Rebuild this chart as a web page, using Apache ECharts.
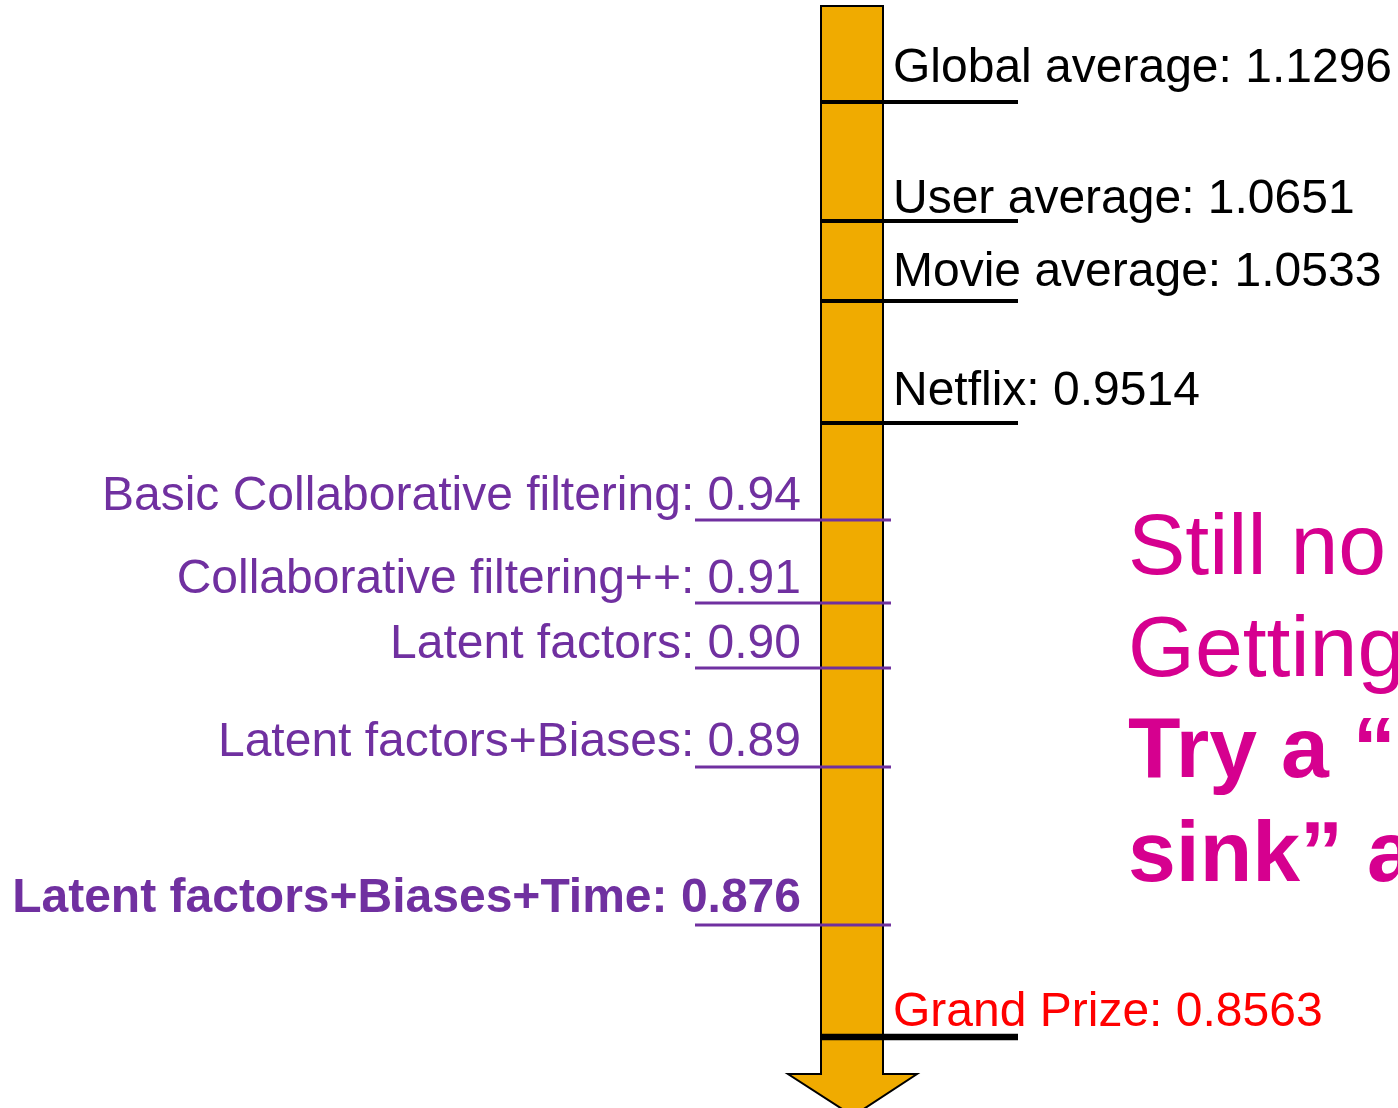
<!DOCTYPE html>
<html><head><meta charset="utf-8">
<script src="https://cdn.jsdelivr.net/npm/echarts@6/dist/echarts.min.js"></script>
<style>html,body{margin:0;padding:0;background:#fff;overflow:hidden}#c{width:1398px;height:1108px;}</style>
</head><body><div id="c"></div>
<script>
// ---- data ----
const methods = ['Global average', 'User average', 'Movie average', 'Netflix',
  'Basic Collaborative filtering', 'Collaborative filtering++', 'Latent factors',
  'Latent factors+Biases', 'Latent factors+Biases+Time', 'Grand Prize'];
const rmse = [1.1296, 1.0651, 1.0533, 0.9514, 0.94, 0.91, 0.90, 0.89, 0.876, 0.8563];
const shownDecimals = [4, 4, 4, 4, 2, 2, 2, 2, 3, 4];
const calloutLines = ['Still no prize!', 'Getting desperate.', 'Try a \u201ckitchen', 'sink\u201d approach!'];

// ---- layout (schematic diagram units, not data) ----
const levelPos = [102, 221, 301, 423, 520, 603, 668, 767, 925, 1037];
const labelBase = [85, 216, 289, 408, 513, 596, 661, 759, 915, 1029];
const side = ['R', 'R', 'R', 'R', 'L', 'L', 'L', 'L', 'L', 'R'];
const fontSz = 48;
const FONT = '"Liberation Sans", Arial, Helvetica, sans-serif';
const PURPLE = '#7030A0', MAGENTA = '#D6008F', GOLD = '#F0AB00';

const chart = echarts.init(document.getElementById('c'), null, {renderer: 'canvas'});

function levelItem(params, api) {
  const i = params.dataIndex;
  const y = api.value(1);
  const isR = side[i] === 'R';
  const grand = i === methods.length - 1;
  const x1 = isR ? 821 : 695, x2 = isR ? 1018 : 891;
  const p1 = api.coord([x1, y]), p2 = api.coord([x2, y]);
  const tb = api.coord([isR ? 893 : 801, labelBase[i]]);
  const fs = fontSz;
  const bold = i === 8;
  const txt = methods[i] + ': ' + rmse[i].toFixed(shownDecimals[i]);
  return {
    type: 'group',
    children: [
      {type: 'line', shape: {x1: p1[0], y1: p1[1], x2: p2[0], y2: p2[1]},
       style: {stroke: isR ? '#000' : PURPLE, lineWidth: grand ? 6.5 : (isR ? 4 : 3)}},
      {type: 'text', style: {
        text: txt, x: tb[0], y: tb[1] - 0.3465 * fs,
        font: (bold ? 'bold ' : '') + fs + 'px ' + FONT,
        fill: grand ? '#FF0000' : (isR ? '#000' : PURPLE),
        align: isR ? 'left' : 'right', verticalAlign: 'middle'}}
    ]
  };
}

function arrowItem(params, api) {
  const pts = [[821, 6], [883, 6], [883, 1074], [917, 1074], [853, 1116], [788, 1074], [821, 1074]];
  return {
    type: 'polygon',
    shape: {points: pts.map(p => api.coord(p))},
    style: {fill: GOLD, stroke: '#000', lineWidth: 2}
  };
}

const calloutSize = 86;
const calloutBase = [580, 682, 783, 887];

chart.setOption({
  animation: false,
  backgroundColor: '#fff',
  grid: {left: 0, right: 0, top: 0, bottom: 0},
  xAxis: {type: 'value', min: 0, max: 1398, show: false},
  yAxis: {type: 'value', min: 0, max: 1108, inverse: true, show: false},
  graphic: calloutLines.map((t, k) => ({
    type: 'text', x: 1128, y: calloutBase[k] - 0.3465 * calloutSize,
    style: {text: t, font: (k >= 2 ? 'bold ' : '') + calloutSize + 'px ' + FONT,
            fill: MAGENTA, align: 'left', verticalAlign: 'middle'}
  })),
  series: [
    {type: 'custom', renderItem: arrowItem, data: [[0]], silent: true, z: 1},
    {type: 'custom', renderItem: levelItem, silent: true, z: 2,
     data: methods.map((m, i) => ({name: m, value: [rmse[i], levelPos[i]]}))}
  ]
});
</script></body></html>
